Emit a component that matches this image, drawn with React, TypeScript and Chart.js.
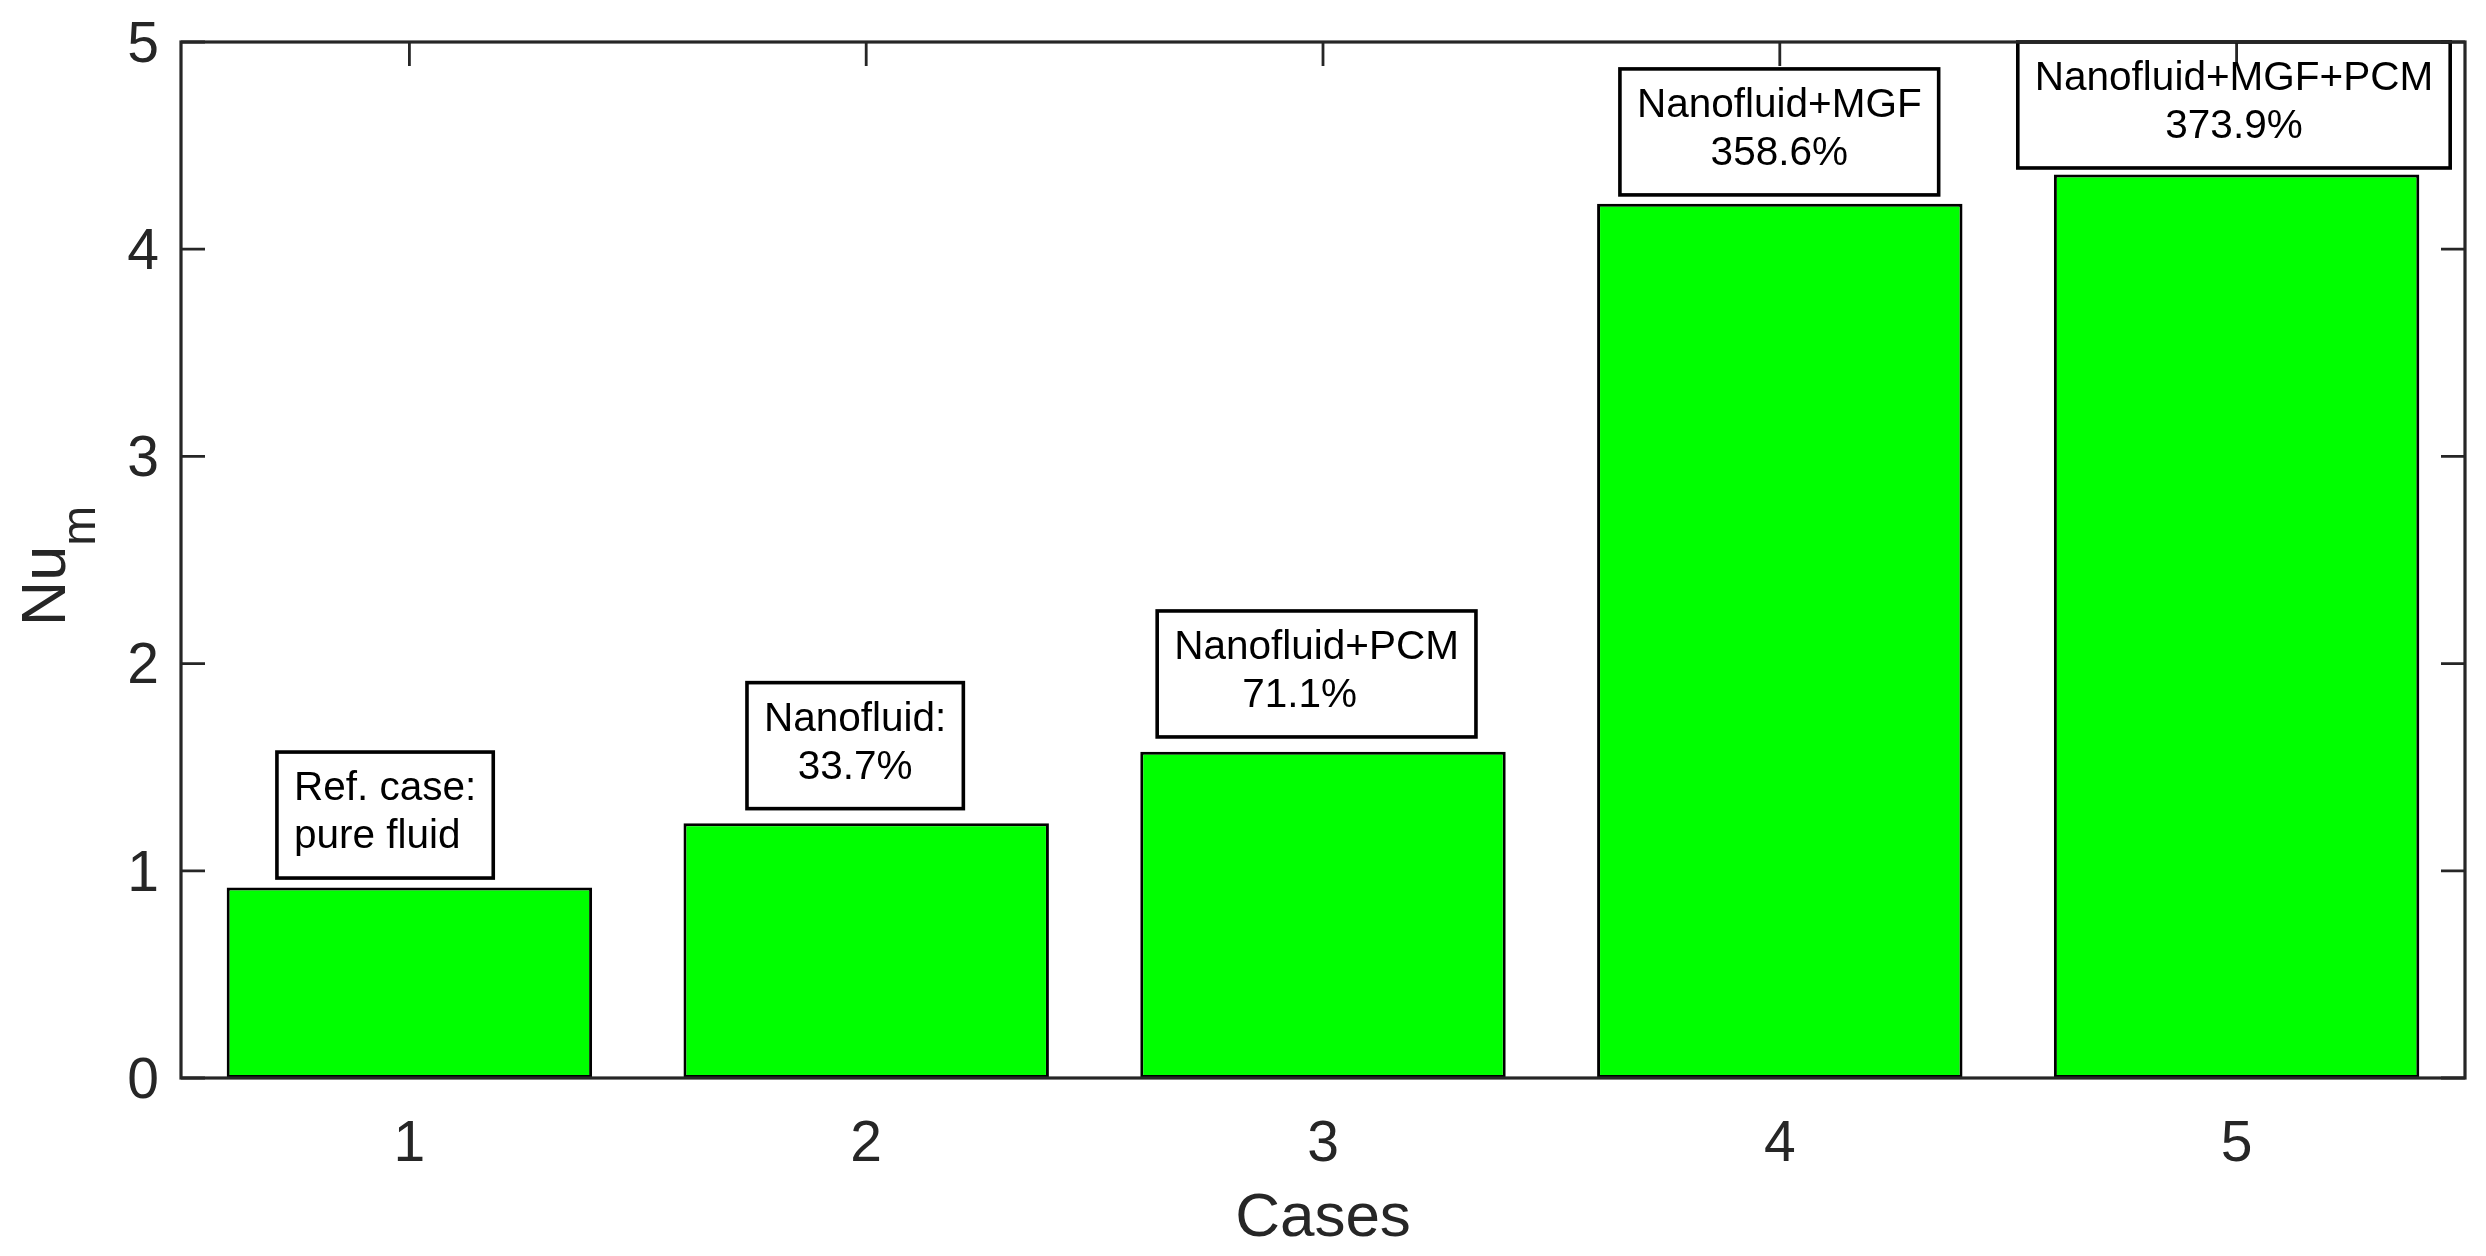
import React, { useEffect, useRef } from 'react';
import { Chart, registerables } from 'chart.js';

Chart.register(...registerables);

// ---- data ----
const categories = ['1', '2', '3', '4', '5'];
const numValues = [0.92, 1.23, 1.574, 4.219, 4.36];
const yTickValues = [0, 1, 2, 3, 4, 5];
const annotationLines = [
  ['Ref. case:', 'pure fluid'],
  ['Nanofluid:', '33.7%'],
  ['Nanofluid+PCM', '71.1%   '],
  ['Nanofluid+MGF', '358.6%'],
  ['Nanofluid+MGF+PCM', '373.9%'],
];
// text anchor positions in data units (case number, Nu value): left / bottom of each box
const annotationX = [0.71, 1.739, 2.637, 3.65, 4.521];
const annotationY = [0.965, 1.3, 1.646, 4.262, 4.392];
const xTitle = 'Cases';
const yTitleMain = 'Nu';
const yTitleSub = 'm';

const FONT = '"Liberation Sans", Arial, Helvetica, sans-serif';
const AXIS_COLOR = '#262626';

const matlabPlugin = {
  id: 'matlabLook',
  beforeDatasetsDraw(chart: any) {
    const { ctx, chartArea: a } = chart;
    const xs = chart.scales.x;
    const ys = chart.scales.y;
    const tl = 24;
    ctx.save();
    ctx.strokeStyle = AXIS_COLOR;
    ctx.lineWidth = 2.8;
    ctx.beginPath();
    yTickValues.forEach((v) => {
      const py = ys.getPixelForValue(v);
      ctx.moveTo(a.left, py);
      ctx.lineTo(a.left + tl, py);
      ctx.moveTo(a.right, py);
      ctx.lineTo(a.right - tl, py);
    });
    categories.forEach((_, i) => {
      const px = xs.getPixelForValue(i);
      ctx.moveTo(px, a.bottom);
      ctx.lineTo(px, a.bottom - tl);
      ctx.moveTo(px, a.top);
      ctx.lineTo(px, a.top + tl);
    });
    ctx.stroke();
    ctx.restore();
  },
  afterDatasetsDraw(chart: any) {
    const { ctx } = chart;
    const xs = chart.scales.x;
    const ys = chart.scales.y;
    const fontSize = 40.5;
    const lineGap = 48;
    const padX = 17;
    ctx.save();
    ctx.font = `${fontSize}px ${FONT}`;
    ctx.fillStyle = '#000';
    ctx.strokeStyle = '#000';
    ctx.lineWidth = 3.6;
    ctx.textBaseline = 'alphabetic';
    annotationLines.forEach((lines, i) => {
      const w = Math.max(...lines.map((l) => ctx.measureText(l).width));
      const boxW = w + 2 * padX;
      const boxH = lines.length * lineGap + 30;
      const left = xs.getPixelForValue(annotationX[i] - 1);
      const bottom = ys.getPixelForValue(annotationY[i]);
      const top = bottom - boxH;
      ctx.strokeRect(left, top, boxW, boxH);
      const leftAligned = i === 0;
      ctx.textAlign = leftAligned ? 'left' : 'center';
      const tx = leftAligned ? left + padX : left + boxW / 2;
      lines.forEach((l, k) => {
        ctx.fillText(l, tx, top + lineGap * (k + 1));
      });
    });
    ctx.restore();
  },
  afterDraw(chart: any) {
    const { ctx, chartArea: a } = chart;
    ctx.save();
    ctx.strokeStyle = AXIS_COLOR;
    ctx.lineWidth = 3.2;
    ctx.strokeRect(a.left, a.top, a.right - a.left, a.bottom - a.top);

    // y-axis title with subscript
    const mainSize = 63;
    const subSize = 48;
    ctx.fillStyle = AXIS_COLOR;
    ctx.textBaseline = 'alphabetic';
    ctx.textAlign = 'left';
    ctx.font = `${mainSize}px ${FONT}`;
    const wMain = ctx.measureText(yTitleMain).width;
    ctx.font = `${subSize}px ${FONT}`;
    const wSub = ctx.measureText(yTitleSub).width;
    const total = wMain + wSub;
    const cy = (a.top + a.bottom) / 2 + 6;
    ctx.translate(a.left - 116, cy);
    ctx.rotate(-Math.PI / 2);
    ctx.font = `${mainSize}px ${FONT}`;
    ctx.fillText(yTitleMain, -total / 2, 0);
    ctx.font = `${subSize}px ${FONT}`;
    ctx.fillText(yTitleSub, -total / 2 + wMain, 30);
    ctx.restore();
  },
};

export default function App() {
  const canvasRef = useRef<HTMLCanvasElement | null>(null);

  useEffect(() => {
    document.body.style.margin = '0';
    const canvas = canvasRef.current;
    if (!canvas) return;
    const chart = new Chart(canvas, {
      type: 'bar',
      data: {
        labels: categories,
        datasets: [
          {
            data: numValues,
            backgroundColor: '#00ff00',
            borderColor: '#000000',
            borderWidth: 3,
            borderSkipped: false,
            barPercentage: 0.8,
            categoryPercentage: 1.0,
          },
        ],
      },
      options: {
        animation: false,
        responsive: true,
        maintainAspectRatio: false,
        devicePixelRatio: 1,
        layout: { padding: { top: 42, right: 21, left: 0, bottom: 0 } },
        plugins: {
          legend: { display: false },
          tooltip: { enabled: false },
          title: { display: false },
        },
        scales: {
          x: {
            type: 'category',
            offset: true,
            grid: { display: false, drawTicks: false },
            border: { display: false },
            ticks: {
              color: AXIS_COLOR,
              font: { family: FONT, size: 57 },
              padding: 33,
              maxRotation: 0,
            },
            title: {
              display: true,
              text: xTitle,
              color: AXIS_COLOR,
              font: { family: FONT, size: 62 },
              padding: { top: 0, bottom: 0 },
            },
            afterFit: (scale: any) => {
              scale.height = 178;
              scale.paddingLeft = 0;
              scale.paddingRight = 0;
            },
          },
          y: {
            type: 'linear',
            min: 0,
            max: 5,
            grid: { display: false, drawTicks: false },
            border: { display: false },
            ticks: {
              stepSize: 1,
              color: AXIS_COLOR,
              font: { family: FONT, size: 57 },
              padding: 22,
              labelOffset: 4,
            },
            afterFit: (scale: any) => {
              scale.width = 181;
              scale.paddingTop = 0;
              scale.paddingBottom = 0;
            },
          },
        },
      },
      plugins: [matlabPlugin],
    });
    return () => chart.destroy();
  }, []);

  return (
    <div style={{ position: 'fixed', left: 0, top: 0, width: '2486px', height: '1256px', background: '#fff' }}>
      <canvas ref={canvasRef} />
    </div>
  );
}
